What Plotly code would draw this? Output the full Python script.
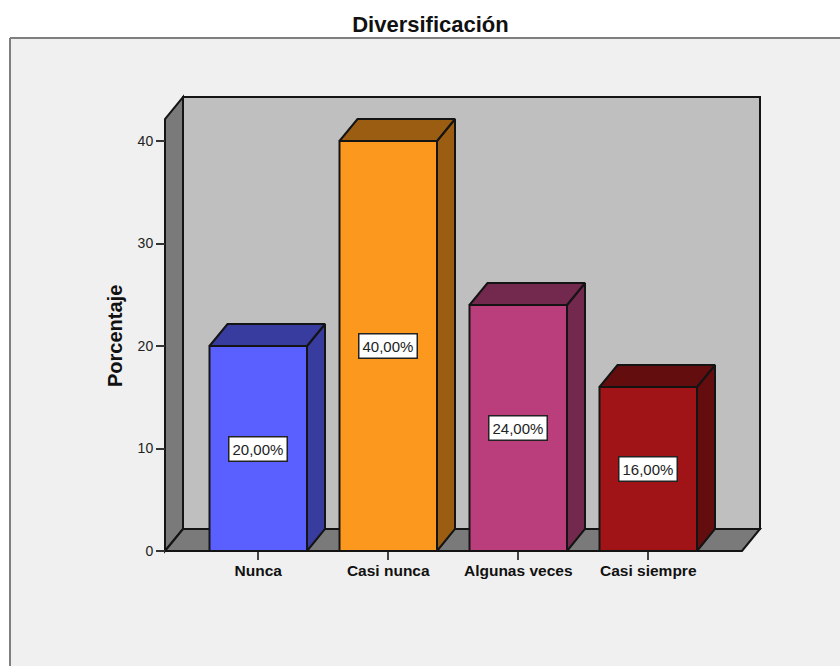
import plotly.graph_objects as go

# Chart content
title = "Diversificación"
y_title = "Porcentaje"
categories = ["Nunca", "Casi nunca", "Algunas veces", "Casi siempre"]
percentages = [20.0, 40.0, 24.0, 16.0]
front_colors = ["#5A60FF", "#FC981E", "#BB3E7C", "#A01417"]
side_colors = ["#383C9F", "#9A5D12", "#73284E", "#640D0F"]
y_ticks = [0, 10, 20, 30, 40]

# Page and scale set-up (pixels of the 840x666 page)
W, H = 840, 666
PLOT_H = 663                 # height plotly lays the paper out on
PX_PER_CAT = 130.0
PX_PER_UNIT = 10.25
ORIGIN_X, ORIGIN_Y = 258.25, 551.0
BAR_WIDTH = 97.5 / PX_PER_CAT
DX = 18.0 / PX_PER_CAT       # depth of the box, horizontally
DY = 22.0 / PX_PER_UNIT      # depth of the box, vertically
EDGE = "#141414"
FONT = "Liberation Sans"

WALL_L = (165 - ORIGIN_X) / PX_PER_CAT
WALL_R = (742 - ORIGIN_X) / PX_PER_CAT
WALL_T = (551 - 119) / PX_PER_UNIT

x_axis_range = [(160 - ORIGIN_X) / PX_PER_CAT, (766 - ORIGIN_X) / PX_PER_CAT]
y_axis_range = [-5 / PX_PER_UNIT, (551 - 92) / PX_PER_UNIT]


def paper_y(px):
    return 1 - px / PLOT_H


def path(points):
    return "M" + " L".join(f"{x},{y}" for x, y in points) + " Z"


def wall(points, fill):
    return dict(type="path", path=path(points), xref="x", yref="y", layer="below",
                fillcolor=fill, line=dict(color=EDGE, width=2))


fig = go.Figure()

# Front faces of the bars
positions = list(range(len(categories)))
fig.add_trace(go.Bar(
    x=positions, y=percentages, width=BAR_WIDTH,
    marker=dict(color=front_colors, line=dict(color=EDGE, width=2)),
    showlegend=False, hoverinfo="skip",
))

# Side and top faces follow from each bar's value
for pos, value, side in zip(positions, percentages, side_colors):
    left, right = pos - BAR_WIDTH / 2, pos + BAR_WIDTH / 2
    fig.add_trace(go.Scatter(
        x=[right, right + DX, right + DX, right, right],
        y=[0, DY, value + DY, value, 0],
        mode="lines", fill="toself", fillcolor=side,
        line=dict(color=EDGE, width=2), showlegend=False, hoverinfo="skip",
    ))
    fig.add_trace(go.Scatter(
        x=[left, left + DX, right + DX, right, left],
        y=[value, value + DY, value + DY, value, value],
        mode="lines", fill="toself", fillcolor=side,
        line=dict(color=EDGE, width=2), showlegend=False, hoverinfo="skip",
    ))

shapes = [
    # Panel behind the chart, open towards the page's right and bottom edges
    dict(type="rect", xref="paper", yref="paper", x0=10 / W, x1=1.01, y0=-0.02, y1=paper_y(38),
         fillcolor="#F0F0F0", line=dict(width=0), layer="below"),
    dict(type="line", xref="paper", yref="paper", x0=10 / W, x1=1.01, y0=paper_y(38), y1=paper_y(38),
         line=dict(color="#7F7F7F", width=2), layer="below"),
    dict(type="line", xref="paper", yref="paper", x0=10 / W, x1=10 / W, y0=-0.02, y1=paper_y(38),
         line=dict(color="#7F7F7F", width=2), layer="below"),
    # Box: back wall, left wall, floor
    wall([(WALL_L + DX, DY), (WALL_R + DX, DY), (WALL_R + DX, WALL_T + DY), (WALL_L + DX, WALL_T + DY)], "#BFBFBF"),
    wall([(WALL_L, 0), (WALL_L, WALL_T), (WALL_L + DX, WALL_T + DY), (WALL_L + DX, DY)], "#7A7A7A"),
    wall([(WALL_L, 0), (WALL_L + DX, DY), (WALL_R + DX, DY), (WALL_R, 0)], "#7A7A7A"),
]

annotations = [
    dict(text=f"<b>{y_title}</b>", xref="paper", yref="paper", x=115 / W, y=paper_y(336), textangle=-90,
         showarrow=False, xanchor="center", yanchor="middle",
         font=dict(family=FONT, size=20, color="#111111")),
]

# Value labels sit at the middle of each bar
for pos, value in zip(positions, percentages):
    annotations.append(dict(
        x=pos, y=value / 2, xref="x", yref="y", showarrow=False,
        text=f"{value:.2f}%".replace(".", ","),
        font=dict(family=FONT, size=15, color="#222222"),
        bgcolor="white", bordercolor="#222222", borderwidth=1.5, borderpad=3,
    ))

fig.update_layout(
    width=W, height=H, autosize=False,
    margin=dict(l=0, r=0, t=0, b=0),
    paper_bgcolor="white", plot_bgcolor="rgba(0,0,0,0)",
    title=dict(text=f"<b>{title}</b>", x=430.5 / W, xanchor="center", xref="paper",
               y=1 - 24 / H, yanchor="middle", yref="paper",
               font=dict(family=FONT, size=22, color="#111111")),
    xaxis=dict(
        domain=[160 / W, 766 / W], range=x_axis_range, anchor="free", position=paper_y(551),
        tickmode="array", tickvals=positions,
        ticktext=[f"<b>{c}</b>" for c in categories],
        ticks="outside", ticklen=8, tickwidth=2, tickcolor="#444444",
        tickfont=dict(family=FONT, size=15.5, color="#111111"),
        ticklabelstandoff=-3,
        showgrid=False, zeroline=False, showline=False,
    ),
    yaxis=dict(
        domain=[paper_y(556), paper_y(92)], range=y_axis_range, anchor="free", position=165 / W,
        tickmode="array", tickvals=y_ticks,
        ticks="outside", ticklen=9, tickwidth=1.5, tickcolor="#333333",
        tickfont=dict(family=FONT, size=14, color="#222222"),
        showgrid=False, zeroline=False, showline=False,
    ),
    shapes=shapes, annotations=annotations,
)

fig.write_html("out.html")
